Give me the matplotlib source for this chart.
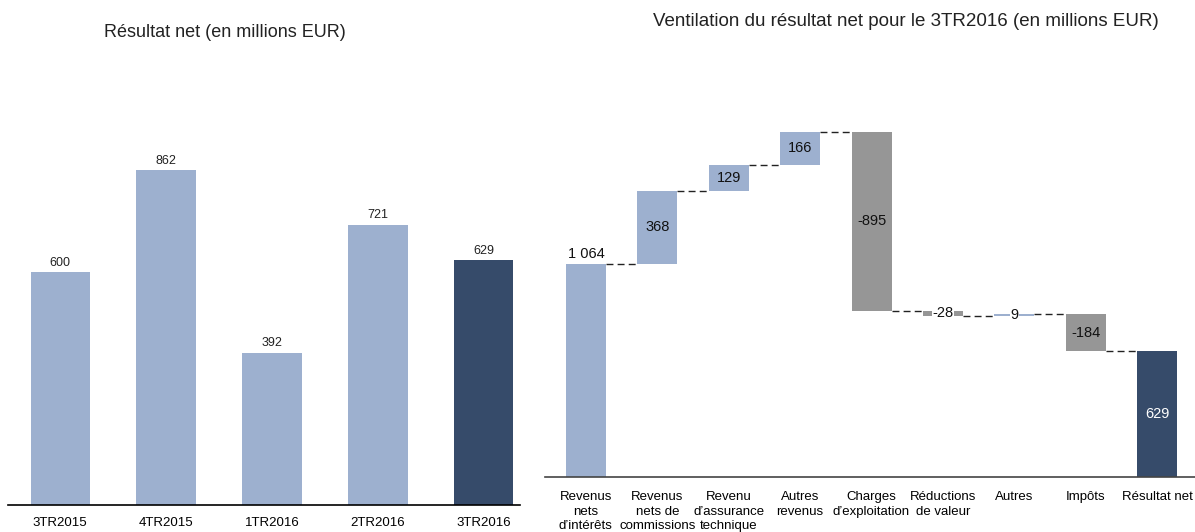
import numpy as np
import matplotlib.pyplot as plt

plt.rcParams['font.family'] = ['Liberation Sans', 'DejaVu Sans']

# Left chart data
quarters = ['3TR2015', '4TR2015', '1TR2016', '2TR2016', '3TR2016']
net_results = [600, 862, 392, 721, 629]

# Right chart data (waterfall)
components = ['Revenus\nnets\nd\u2019intérêts', 'Revenus\nnets de\ncommissions',
              'Revenu\nd\u2019assurance\ntechnique', 'Autres\nrevenus',
              'Charges\nd\u2019exploitation', 'Réductions\nde valeur', 'Autres',
              'Impôts', 'Résultat net']
component_values = [1064, 368, 129, 166, -895, -28, 9, -184, 629]
value_labels = ['1 064', '368', '129', '166', '-895', '-28', '9', '-184', '629']

light = '#9db0cf'
dark = '#364b6a'
grey = '#969696'

fig = plt.figure(figsize=(11.95, 5.32), dpi=100)

# ---- left: net result per quarter
ax1 = fig.add_axes([0.007, 0.0508, 0.428, 0.731])
x = np.arange(len(quarters))
colors = [light] * (len(quarters) - 1) + [dark]
ax1.bar(x, net_results, width=0.56, color=colors)
for xi, v in zip(x, net_results):
    ax1.text(xi, v + 8, str(v), ha='center', va='bottom', fontsize=9, color='#222222')
ax1.set_xlim(-0.49, 4.34)
ax1.set_ylim(0, 1000)
ax1.set_xticks(x)
ax1.set_xticklabels(quarters, fontsize=9.5)
ax1.tick_params(axis='x', length=0, pad=9)
ax1.set_yticks([])
for s in ['left', 'right', 'top']:
    ax1.spines[s].set_visible(False)
ax1.spines['bottom'].set_color('black')
ax1.spines['bottom'].set_linewidth(1.2)
fig.text(0.188, 0.938, 'Résultat net (en millions EUR)', ha='center', va='center',
         fontsize=13, color='#222222')

# ---- right: waterfall
ax2 = fig.add_axes([0.456, 0.1034, 0.544, 0.752])
n = len(components)
xs = np.arange(n)
bottoms, heights, bcolors = [], [], []
cum = 0
for i, v in enumerate(component_values):
    if i == 0:
        bottoms.append(0); heights.append(v); bcolors.append(light)
        cum = v
    elif i == n - 1:
        bottoms.append(0); heights.append(v); bcolors.append(dark)
    else:
        if v >= 0:
            bottoms.append(cum); heights.append(v); bcolors.append(light)
        else:
            bottoms.append(cum + v); heights.append(-v); bcolors.append(grey)
        cum += v
w = 0.56
ax2.bar(xs, heights, bottom=bottoms, width=w, color=bcolors)

# connectors
levels = np.cumsum(component_values[:-1])
for i in range(n - 1):
    ax2.plot([xs[i] + w / 2, xs[i + 1] - w / 2], [levels[i], levels[i]],
             color='#222222', lw=1, ls=(0, (5, 3)), zorder=1)

for i, (v, lab) in enumerate(zip(component_values, value_labels)):
    mid = bottoms[i] + heights[i] / 2
    if i == 0:
        ax2.text(xs[i], bottoms[i] + heights[i] + 18, lab, ha='center', va='bottom',
                 fontsize=10.5, color='#111111')
    elif i == n - 1:
        ax2.text(xs[i], mid, lab, ha='center', va='center', fontsize=10.5, color='white')
    elif abs(v) < 50:
        ax2.text(xs[i], mid, lab, ha='center', va='center', fontsize=10.5, color='#111111',
                 bbox=dict(facecolor='white', edgecolor='none', pad=0.5), zorder=3)
    else:
        ax2.text(xs[i], mid, lab, ha='center', va='center', fontsize=10.5, color='#111111')

ax2.set_xlim(-0.574, 8.53)
ax2.set_ylim(0, 2000)
ax2.set_xticks(xs)
ax2.set_xticklabels(components, fontsize=9.5, linespacing=1.3, va='top')
ax2.tick_params(axis='x', length=0, pad=10)
ax2.set_yticks([])
for s in ['left', 'right', 'top']:
    ax2.spines[s].set_visible(False)
ax2.spines['bottom'].set_color('#444444')
ax2.spines['bottom'].set_linewidth(1.2)
fig.text(0.758, 0.96, 'Ventilation du résultat net pour le 3TR2016 (en millions EUR)',
         ha='center', va='center', fontsize=13.5, color='#222222')

fig.savefig('out.png', dpi=100)
